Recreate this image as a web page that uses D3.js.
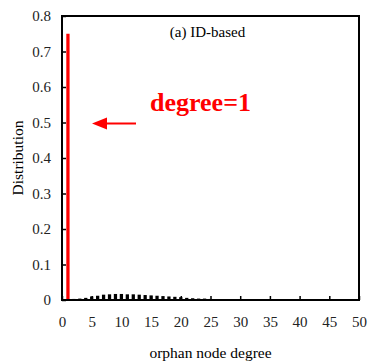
<!DOCTYPE html>
<meta charset="utf-8">
<script src="https://d3js.org/d3.v7.min.js"></script>
<style>
  body { margin: 0; background: #fff; }
  text { font-family: "Liberation Serif", "Times New Roman", serif; }
</style>
<div id="my_dataviz"></div>
<script>

// data
var degrees = [1, 2, 3, 4, 5, 6, 7, 8, 9, 10, 11, 12, 13, 14, 15, 16, 17, 18, 19, 20, 21, 22, 23, 24, 25];
var dist = [0.75, 0.003, 0.004, 0.006, 0.010, 0.012, 0.015, 0.016, 0.017, 0.017, 0.016, 0.016, 0.015,
            0.014, 0.013, 0.012, 0.011, 0.010, 0.009, 0.008, 0.006, 0.005, 0.004, 0.004, 0.003];
var xTicks = [0, 5, 10, 15, 20, 25, 30, 35, 40, 45, 50];
var yTicks = [0, 0.1, 0.2, 0.3, 0.4, 0.5, 0.6, 0.7, 0.8];

var margin = {top: 16, right: 10, bottom: 62, left: 62},
    width = 369 - margin.left - margin.right,
    height = 362 - margin.top - margin.bottom;

var svg = d3.select("#my_dataviz")
  .append("svg")
    .attr("width", 369)
    .attr("height", 362)
  .append("g")
    .attr("transform", "translate(" + margin.left + "," + margin.top + ")");

var x = d3.scaleLinear().domain([0, 50]).range([0, width]);
var y = d3.scaleLinear().domain([0, 0.8]).range([height, 0]);

// bars
var bw = x(0.55) - x(0);
svg.selectAll("rect.bar")
  .data(degrees)
  .enter()
  .append("rect")
    .attr("class", "bar")
    .attr("x", function(d) { return x(d) - bw / 2; })
    .attr("width", bw)
    .attr("y", function(d, i) { return y(dist[i]); })
    .attr("height", function(d, i) { return height - y(dist[i]); })
    .style("fill", function(d) { return d === 1 ? "#ff0000" : "#000"; });

// axes, ticks inside
var xAxis = svg.append("g")
  .attr("transform", "translate(0," + height + ")")
  .call(d3.axisBottom(x).tickValues(xTicks).tickSizeInner(-4).tickSizeOuter(0).tickPadding(16));
var yAxis = svg.append("g")
  .call(d3.axisLeft(y).tickValues(yTicks).tickSizeInner(-4).tickSizeOuter(0).tickPadding(11)
    .tickFormat(function(d) { return d === 0 ? "0" : d3.format(".1f")(d); }));

[xAxis, yAxis].forEach(function(a) {
  a.select(".domain").remove();
  a.selectAll("line").style("stroke", "#000").style("stroke-width", 1.5);
  a.selectAll("text").style("font-family", "Liberation Serif").style("font-size", "15px").style("fill", "#222");
});

// frame
svg.append("rect")
  .attr("width", width).attr("height", height)
  .style("fill", "none").style("stroke", "#000").style("stroke-width", 2);

// titles
svg.append("text")
  .attr("x", x(24.5)).attr("y", 21)
  .attr("text-anchor", "middle")
  .style("font-size", "15px")
  .text("(a) ID-based");

svg.append("text")
  .attr("x", x(25)).attr("y", height + 58)
  .attr("text-anchor", "middle")
  .style("font-size", "15.5px")
  .text("orphan node degree");

svg.append("text")
  .attr("transform", "translate(" + (-39) + "," + (height / 2) + ") rotate(-90)")
  .attr("text-anchor", "middle")
  .style("font-size", "15.5px")
  .text("Distribution");

// annotation
svg.append("text")
  .attr("x", 88).attr("y", y(0.5) - 12)
  .style("font-size", "26px").style("font-weight", "bold").style("fill", "#ff0000")
  .text("degree=1");

svg.append("line")
  .attr("x1", 45).attr("x2", 74)
  .attr("y1", y(0.5) + 1).attr("y2", y(0.5) + 1)
  .style("stroke", "#ff0000").style("stroke-width", 2);
svg.append("path")
  .attr("d", "M30," + (y(0.5) + 1) + " L45," + (y(0.5) - 5) + " L45," + (y(0.5) + 7) + " Z")
  .style("fill", "#ff0000");

</script>
